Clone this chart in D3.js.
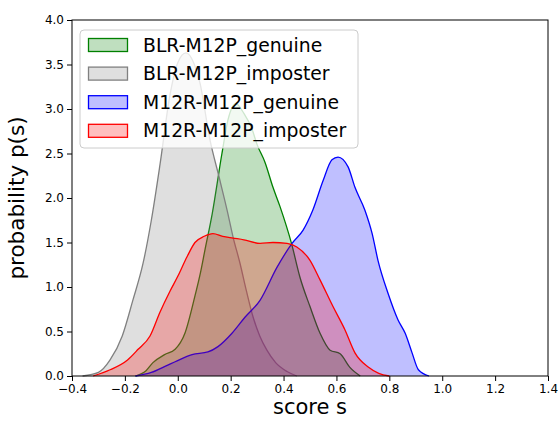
<!DOCTYPE html>
<html>
<head>
<meta charset="utf-8">
<script src="https://cdn.jsdelivr.net/npm/d3@7"></script>
<style>
  body { margin: 0; background: #fff; }
  text { font-family: "DejaVu Sans", sans-serif; fill: #000; }
</style>
</head>
<body>
<div id="chart"></div>
<script>
// series, in drawing / legend order
const names = ['BLR-M12P_genuine', 'BLR-M12P_imposter', 'M12R-M12P_genuine', 'M12R-M12P_imposter']
const colors = ['#008000', '#808080', '#0000ff', '#ff0000']

// density curves (score, p(s))
const blrGenuineX = [-0.16, -0.12, -0.094, -0.05, -0.01, 0.027, 0.065, 0.085, 0.103, 0.13, 0.167, 0.19, 0.22, 0.25, 0.28, 0.30, 0.33, 0.36, 0.387, 0.43, 0.462, 0.50, 0.538, 0.576, 0.614, 0.65, 0.69]
const blrGenuineY = [0, 0.06, 0.15, 0.24, 0.30, 0.48, 0.90, 1.15, 1.42, 1.82, 2.50, 2.88, 3.06, 2.95, 2.78, 2.60, 2.40, 2.12, 1.90, 1.49, 1.11, 0.78, 0.48, 0.29, 0.25, 0.10, 0]

const blrImposterX = [-0.36, -0.30, -0.256, -0.21, -0.17, -0.131, -0.10, -0.067, -0.03, 0.0, 0.031, 0.06, 0.084, 0.122, 0.155, 0.186, 0.21, 0.235, 0.26, 0.285, 0.31, 0.337, 0.37, 0.413, 0.45]
const blrImposterY = [0, 0.04, 0.18, 0.45, 0.85, 1.27, 1.75, 2.38, 3.15, 3.52, 3.63, 3.52, 3.29, 2.65, 2.25, 1.87, 1.55, 1.27, 0.95, 0.66, 0.45, 0.29, 0.15, 0.05, 0]

const m12rGenuineX = [-0.16, -0.10, -0.04, -0.01, 0.054, 0.114, 0.152, 0.205, 0.254, 0.311, 0.375, 0.432, 0.474, 0.51, 0.55, 0.583, 0.606, 0.644, 0.67, 0.708, 0.735, 0.757, 0.795, 0.833, 0.86, 0.886, 0.91, 0.95]
const m12rGenuineY = [0, 0.04, 0.12, 0.16, 0.24, 0.27, 0.33, 0.48, 0.66, 0.85, 1.22, 1.49, 1.64, 1.86, 2.20, 2.43, 2.46, 2.35, 2.12, 1.86, 1.60, 1.30, 0.93, 0.63, 0.48, 0.26, 0.07, 0]

const m12rImposterX = [-0.32, -0.256, -0.19, -0.15, -0.105, -0.067, -0.03, 0.0, 0.035, 0.065, 0.10, 0.133, 0.17, 0.209, 0.25, 0.311, 0.36, 0.413, 0.45, 0.50, 0.538, 0.587, 0.632, 0.67, 0.72, 0.76, 0.80]
const m12rImposterY = [0, 0.07, 0.18, 0.30, 0.45, 0.72, 0.95, 1.12, 1.34, 1.50, 1.57, 1.60, 1.57, 1.55, 1.53, 1.49, 1.50, 1.49, 1.45, 1.30, 1.08, 0.78, 0.52, 0.26, 0.10, 0.03, 0]

const xTicks = [-0.4, -0.2, 0.0, 0.2, 0.4, 0.6, 0.8, 1.0, 1.2, 1.4]
const yTicks = [0.0, 0.5, 1.0, 1.5, 2.0, 2.5, 3.0, 3.5, 4.0]

const margin = { top: 20, right: 10, bottom: 45, left: 72 }
const width = 558 - margin.left - margin.right
const height = 421 - margin.top - margin.bottom

const x = d3.scaleLinear().domain([-0.4, 1.4]).range([0, width])
const y = d3.scaleLinear().domain([0, 4]).range([height, 0])

const svg = d3.select('#chart').append('svg')
  .attr('width', 558)
  .attr('height', 421)
  .append('g')
  .attr('transform', 'translate(' + margin.left + ',' + margin.top + ')')

const series = [
  [blrGenuineX, blrGenuineY],
  [blrImposterX, blrImposterY],
  [m12rGenuineX, m12rGenuineY],
  [m12rImposterX, m12rImposterY]
].map(([xs, ys], i) => ({ name: names[i], color: colors[i], pts: xs.map((v, j) => [v, ys[j]]) }))

const area = d3.area()
  .x(d => x(d[0]))
  .y0(y(0))
  .y1(d => y(d[1]))
  .curve(d3.curveMonotoneX)

const line = d3.line()
  .x(d => x(d[0]))
  .y(d => y(d[1]))
  .curve(d3.curveMonotoneX)

series.forEach(s => {
  const g = svg.append('g')
  g.append('path')
    .attr('d', area(s.pts))
    .attr('fill', s.color)
    .attr('fill-opacity', 0.25)
  g.append('path')
    .attr('d', line(s.pts))
    .attr('fill', 'none')
    .attr('stroke', s.color)
    .attr('stroke-width', 1.3)
})

// axes
const fmt = d => (d < 0 ? '\u2212' : '') + Math.abs(d).toFixed(1)

svg.append('g')
  .attr('transform', 'translate(0,' + height + ')')
  .call(d3.axisBottom(x).tickValues(xTicks).tickFormat(fmt).tickSize(5).tickPadding(3))
  .call(g => g.selectAll('text').attr('font-size', 12).attr('font-family', 'DejaVu Sans').attr('fill', '#222'))

svg.append('g')
  .call(d3.axisLeft(y).tickValues(yTicks).tickFormat(fmt).tickSize(5).tickPadding(3))
  .call(g => g.selectAll('text').attr('font-size', 12).attr('font-family', 'DejaVu Sans').attr('fill', '#222'))

svg.selectAll('.domain').remove()
svg.append('rect')
  .attr('width', width)
  .attr('height', height)
  .attr('fill', 'none')
  .attr('stroke', '#000')
  .attr('stroke-width', 1)

svg.append('text')
  .attr('x', width / 2)
  .attr('y', 394)
  .attr('text-anchor', 'middle')
  .attr('font-size', 21)
  .text('score s')

svg.append('text')
  .attr('transform', 'translate(-48,' + (height / 2) + ') rotate(-90)')
  .attr('text-anchor', 'middle')
  .attr('font-size', 21.5)
  .text('probability p(s)')

// legend
const legend = svg.append('g').attr('transform', 'translate(8,10)')
legend.append('rect')
  .attr('width', 278)
  .attr('height', 118)
  .attr('rx', 4)
  .attr('fill', '#fff')
  .attr('fill-opacity', 0.8)
  .attr('stroke', '#cccccc')

series.forEach((s, i) => {
  const row = legend.append('g').attr('transform', 'translate(8,' + (15 + i * 28.6) + ')')
  row.append('rect')
    .attr('x', 0.5)
    .attr('y', -6.5)
    .attr('width', 39)
    .attr('height', 13)
    .attr('fill', s.color)
    .attr('fill-opacity', 0.25)
    .attr('stroke', s.color)
    .attr('stroke-width', 1.3)
  row.append('text')
    .attr('x', 55)
    .attr('y', 0)
    .attr('dy', '0.35em')
    .attr('font-size', 18.8)
    .text(s.name)
})
</script>
</body>
</html>
